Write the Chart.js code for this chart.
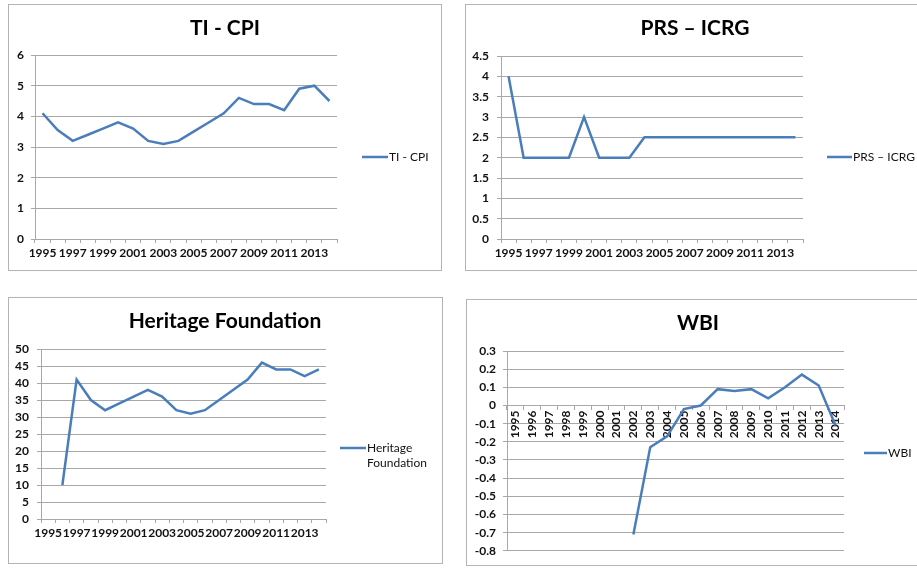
<!DOCTYPE html>
<html>
<head>
<meta charset="utf-8">
<script src="https://cdn.jsdelivr.net/npm/chart.js@4.4.1/dist/chart.umd.min.js"></script>
<style>
  html, body { margin: 0; padding: 0; background: #fff; }
  body { width: 917px; height: 568px; position: relative; overflow: hidden; }
  .frame { position: absolute; border: 1px solid #b4b4b4; box-sizing: border-box; }
  canvas { position: absolute; }
</style>
</head>
<body>
<div class="frame" style="left:8px;top:4px;width:434px;height:267px"></div>
<div class="frame" style="left:465px;top:4px;width:470px;height:267px"></div>
<div class="frame" style="left:8px;top:297px;width:435px;height:267px"></div>
<div class="frame" style="left:466px;top:299px;width:470px;height:267px"></div>

<canvas id="c1" width="434" height="266" style="left:8px;top:4px"></canvas>
<canvas id="c2" width="460" height="266" style="left:465px;top:4px"></canvas>
<canvas id="c3" width="434" height="266" style="left:8px;top:297px"></canvas>
<canvas id="c4" width="464" height="266" style="left:466px;top:299px"></canvas>

<script>
// --- dados ---
const years = ['1995','1996','1997','1998','1999','2000','2001','2002','2003','2004',
               '2005','2006','2007','2008','2009','2010','2011','2012','2013','2014'];

const tiCpi    = [4.1, 3.55, 3.2, 3.4, 3.6, 3.8, 3.6, 3.2, 3.1, 3.2, 3.5, 3.8, 4.1, 4.6, 4.4, 4.4, 4.2, 4.9, 5.0, 4.5];
const prsIcrg  = [4, 2, 2, 2, 2, 3, 2, 2, 2, 2.5, 2.5, 2.5, 2.5, 2.5, 2.5, 2.5, 2.5, 2.5, 2.5, 2.5];
const heritage = [null, 10, 41, 35, 32, 34, 36, 38, 36, 32, 31, 32, 35, 38, 41, 46, 44, 44, 42, 44];
const wbi      = [null, null, null, null, null, null, null, -0.71, -0.23, -0.17, -0.02, 0.0, 0.09, 0.08, 0.09, 0.04, 0.1, 0.17, 0.11, -0.11];

const LINE = '#4a7ebb';
const GRID = '#a8a8a8';
const FONT = 'Lato, "Open Sans", sans-serif';

// título centrado no quadro + legenda à direita da área do gráfico
const frameText = {
  id: 'frameText',
  afterDraw(chart, args, opts) {
    const { ctx, chartArea, width } = chart;
    ctx.save();
    ctx.fillStyle = '#000';
    ctx.font = 'bold 21px ' + FONT;
    ctx.textAlign = 'center';
    ctx.textBaseline = 'middle';
    ctx.fillText(opts.title, width / 2, 24);

    const x0 = chartArea.right + opts.dx1, x1 = chartArea.right + opts.dx2;
    ctx.strokeStyle = LINE;
    ctx.lineWidth = 2.5;
    ctx.beginPath();
    ctx.moveTo(x0, opts.y);
    ctx.lineTo(x1, opts.y);
    ctx.stroke();
    ctx.fillStyle = '#111';
    ctx.font = '12px ' + FONT;
    ctx.textAlign = 'left';
    opts.lines.forEach((t, i) => ctx.fillText(t, x1 + 1, opts.y + i * 15));
    ctx.restore();
  }
};

function makeChart(id, p) {
  const rotated = !!p.rotated;
  new Chart(document.getElementById(id), {
    type: 'line',
    data: {
      labels: years,
      datasets: [{
        label: p.title,
        data: p.data,
        borderColor: LINE,
        borderWidth: 2.5,
        pointRadius: 0,
        tension: 0,
        fill: false
      }]
    },
    options: {
      responsive: false,
      animation: false,
      devicePixelRatio: 1,
      layout: { padding: { left: 0, right: p.padRight, top: p.padTop, bottom: p.padBottom || 0 } },
      plugins: {
        legend: { display: false },
        tooltip: { enabled: false },
        title: { display: false },
        frameText: Object.assign({ title: p.title }, p.legend)
      },
      scales: {
        x: {
          type: 'category',
          offset: true,
          position: rotated ? { y: 0 } : 'bottom',
          afterFit: rotated ? undefined : (s) => { s.height = p.xHeight; },
          grid: {
            display: true, drawOnChartArea: false, drawTicks: true,
            tickLength: 4, offset: true, color: GRID
          },
          border: { display: true, color: GRID },
          ticks: {
            autoSkip: false,
            maxRotation: rotated ? 90 : 0,
            minRotation: rotated ? 90 : 0,
            padding: rotated ? 1 : 3,
            color: '#111',
            font: { family: FONT, size: 12, weight: 'bold' },
            callback: function (v, i) {
              if (rotated) return years[i];
              return i % 2 === 0 ? years[i] : '';
            }
          }
        },
        y: {
          min: p.min, max: p.max,
          afterFit: (s) => { s.width = p.yWidth; },
          grid: { color: GRID, tickLength: 4, drawTicks: true },
          border: { display: true, color: GRID },
          ticks: {
            stepSize: p.step,
            autoSkip: false,
            padding: p.yPad,
            color: '#111',
            font: { family: FONT, size: 12, weight: 'bold' },
            callback: (v) => String(Number(v.toFixed(2)))
          }
        }
      }
    },
    plugins: [frameText]
  });
}

makeChart('c1', {
  title: 'TI - CPI', data: tiCpi, min: 0, max: 6, step: 1,
  yWidth: 27, yPad: 7, xHeight: 31, padRight: 105, padTop: 51,
  legend: { dx1: 25, dx2: 51, y: 153, lines: ['TI - CPI'] }
});

makeChart('c2', {
  title: 'PRS – ICRG', data: prsIcrg, min: 0, max: 4.5, step: 0.5,
  yWidth: 36, yPad: 8, xHeight: 31, padRight: 122, padTop: 52,
  legend: { dx1: 24, dx2: 49, y: 153, lines: ['PRS – ICRG'] }
});

makeChart('c3', {
  title: 'Heritage Foundation', data: heritage, min: 0, max: 50, step: 5,
  yWidth: 33, yPad: 8, xHeight: 44, padRight: 116, padTop: 52,
  legend: { dx1: 14, dx2: 40, y: 151, lines: ['Heritage', 'Foundation'] }
});

makeChart('c4', {
  title: 'WBI', data: wbi, min: -0.8, max: 0.3, step: 0.1,
  yWidth: 41, yPad: 7, padRight: 86, padTop: 52, padBottom: 13, rotated: true,
  legend: { dx1: 20, dx2: 43, y: 154, lines: ['WBI'] }
});
</script>
</body>
</html>
